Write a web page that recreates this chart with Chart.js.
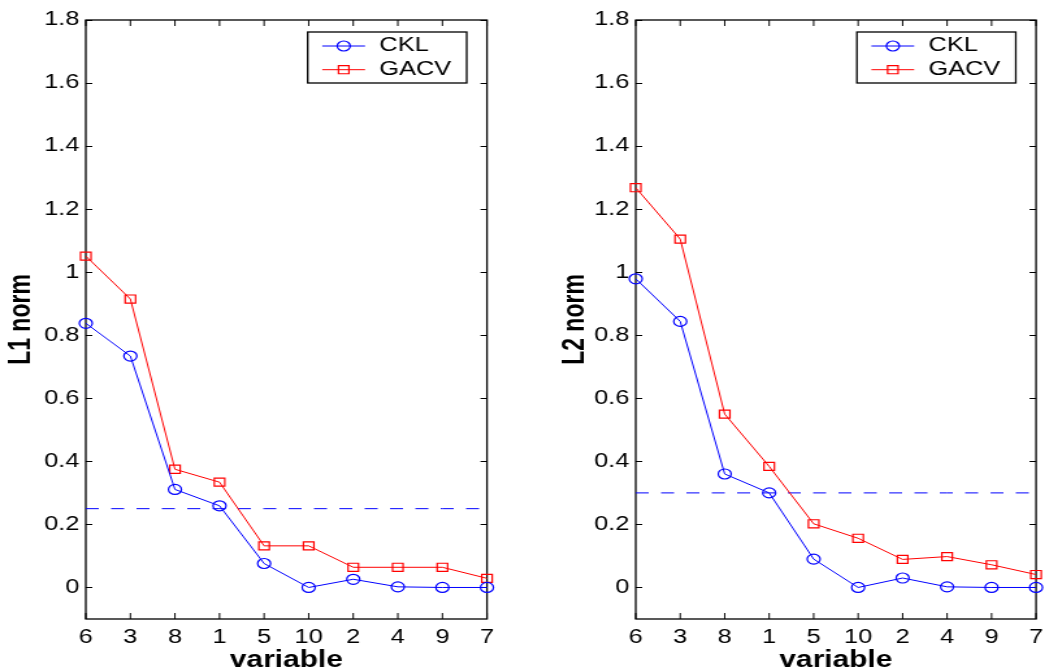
<!DOCTYPE html>
<html>
<head>
<meta charset="utf-8">
<script src="https://cdn.jsdelivr.net/npm/chart.js@4/dist/chart.umd.min.js"></script>
<style>
  html, body { margin: 0; padding: 0; background: #fff; overflow: hidden; }
  /* the original figure is stretched sideways by about 1.3,
     so the canvases are drawn narrow and shown 1.3x wider */
  canvas { position: absolute; top: 0; height: 672px; }
  #l1Chart { left: 0; width: 520px; }
  #l2Chart { left: 550px; width: 495.3px; }
</style>
</head>
<body>
<canvas id="l1Chart" width="400" height="672" style="width:520px;height:672px"></canvas>
<canvas id="l2Chart" width="381" height="672" style="width:495.3px;height:672px"></canvas>
<script>
// data
const variables = ["6", "3", "8", "1", "5", "10", "2", "4", "9", "7"];
const l1Ckl  = [0.838, 0.734, 0.311, 0.259, 0.076, 0, 0.026, 0.002, 0, 0];
const l1Gacv = [1.051, 0.915, 0.375, 0.334, 0.132, 0.132, 0.064, 0.064, 0.064, 0.029];
const l1Cut  = 0.25;
const l2Ckl  = [0.979, 0.844, 0.36, 0.30, 0.09, 0, 0.03, 0.002, 0, 0];
const l2Gacv = [1.268, 1.105, 0.55, 0.384, 0.202, 0.156, 0.089, 0.098, 0.072, 0.041];
const l2Cut  = 0.3;
const yTicks = [0, 0.2, 0.4, 0.6, 0.8, 1, 1.2, 1.4, 1.6, 1.8];

const FONT = '"Liberation Sans", Arial, sans-serif';

// box + inward ticks on all four sides
const matlabFrame = {
  id: 'matlabFrame',
  beforeDatasetsDraw(chart) {
    const { ctx, chartArea: a, scales: { x, y } } = chart;
    ctx.save();
    ctx.strokeStyle = '#000';
    ctx.lineWidth = 1;
    ctx.beginPath();
    x.ticks.forEach((t, i) => {
      const px = x.getPixelForTick(i);
      ctx.moveTo(px, a.bottom); ctx.lineTo(px, a.bottom - 6);
      ctx.moveTo(px, a.top); ctx.lineTo(px, a.top + 6);
    });
    y.ticks.forEach(t => {
      const py = Math.round(y.getPixelForValue(t.value)) + 0.5;
      ctx.moveTo(a.left, py); ctx.lineTo(a.left + 5, py);
      ctx.moveTo(a.right, py); ctx.lineTo(a.right - 5, py);
    });
    ctx.stroke();
    ctx.lineWidth = 1.3;
    ctx.strokeRect(a.left, a.top, a.right - a.left, a.bottom - a.top);
    ctx.restore();
  }
};

// legend box in the upper right corner, line with marker like matlab
const boxLegend = {
  id: 'boxLegend',
  afterDatasetsDraw(chart) {
    const { ctx, chartArea: a } = chart;
    const w = 122.3, h = 51;
    const bx = a.right - 15.6 - w, by = a.top + 12;
    ctx.save();
    ctx.fillStyle = '#fff';
    ctx.fillRect(bx, by, w, h);
    ctx.strokeStyle = '#000';
    ctx.lineWidth = 1.3;
    ctx.strokeRect(bx, by, w, h);
    chart.data.datasets.filter(d => d.inBox).forEach((d, i) => {
      const ly = by + 14 + i * 23.7;
      const mx = bx + 27.7;
      ctx.strokeStyle = d.borderColor;
      ctx.lineWidth = 1;
      ctx.beginPath(); ctx.moveTo(bx + 11.2, ly); ctx.lineTo(bx + 44.1, ly); ctx.stroke();
      ctx.lineWidth = 1.2;
      ctx.beginPath();
      if (d.pointStyle === 'circle') {
        ctx.arc(mx, ly, d.pointRadius, 0, Math.PI * 2);
      } else {
        const s = d.pointRadius * Math.SQRT1_2;
        ctx.rect(mx - s, ly - s, 2 * s, 2 * s);
      }
      ctx.stroke();
      ctx.fillStyle = '#000';
      ctx.font = '19.5px ' + FONT;
      ctx.textBaseline = 'middle';
      ctx.fillText(d.label, bx + 55.1, ly);
    });
    ctx.restore();
  }
};

function makePanel(id, ckl, gacv, cut, yTitle, padRight, titlePad) {
  return new Chart(document.getElementById(id), {
    type: 'line',
    data: {
      labels: variables,
      datasets: [{
        label: 'CKL',
        data: ckl,
        borderColor: '#0000ff',
        borderWidth: 1,
        pointStyle: 'circle',
        pointRadius: 5,
        pointBorderWidth: 1.2,
        pointBackgroundColor: 'rgba(0,0,0,0)',
        clip: false,
        inBox: true
      },
      {
        label: 'GACV',
        data: gacv,
        borderColor: '#ff0000',
        borderWidth: 1,
        pointStyle: 'rect',
        pointRadius: 5.7,
        pointBorderWidth: 1.2,
        pointBackgroundColor: 'rgba(0,0,0,0)',
        clip: false,
        inBox: true
      },
      {
        label: 'cutoff',
        data: variables.map(() => cut),
        borderColor: '#0000ff',
        borderWidth: 1,
        borderDash: [10, 9.5],
        pointRadius: 0
      }]
    },
    options: {
      responsive: false,
      animation: false,
      layout: { padding: { top: 20, right: padRight, left: 0, bottom: 0 } },
      plugins: { legend: { display: false }, tooltip: { enabled: false } },
      scales: {
        x: {
          type: 'category',
          offset: false,
          grid: { display: false, drawTicks: false },
          border: { display: false },
          ticks: { color: '#000', font: { family: FONT, size: 19.5 }, padding: 7, maxRotation: 0, autoSkip: false },
          title: { display: true, text: 'variable', color: '#000', padding: 0,
                   font: { family: FONT, size: 23, weight: 'bold', lineHeight: 1 } },
          // fixed height, and let the end labels hang over the edges
          afterFit: s => { s.height = 53; s.paddingLeft = 0; s.paddingRight = 0; }
        },
        y: {
          min: -0.1,
          max: 1.8,
          grid: { display: false, drawTicks: false },
          border: { display: false },
          afterBuildTicks: s => { s.ticks = yTicks.map(v => ({ value: v })); },
          ticks: { color: '#000', font: { family: FONT, size: 19.5 }, padding: 5,
                   callback: v => String(+v.toFixed(1)) },
          title: { display: true, text: yTitle, color: '#000', padding: { top: titlePad, bottom: 0 },
                   font: { family: FONT, size: 23, weight: 'bold', lineHeight: 1.2 } },
          afterFit: s => { s.width = 66; }
        }
      }
    },
    plugins: [matlabFrame, boxLegend]
  });
}

makePanel('l1Chart', l1Ckl, l1Gacv, l1Cut, 'L1 norm', 25.4, 3);
makePanel('l2Chart', l2Ckl, l2Gacv, l2Cut, 'L2 norm', 4.8, 6);
</script>
</body>
</html>
